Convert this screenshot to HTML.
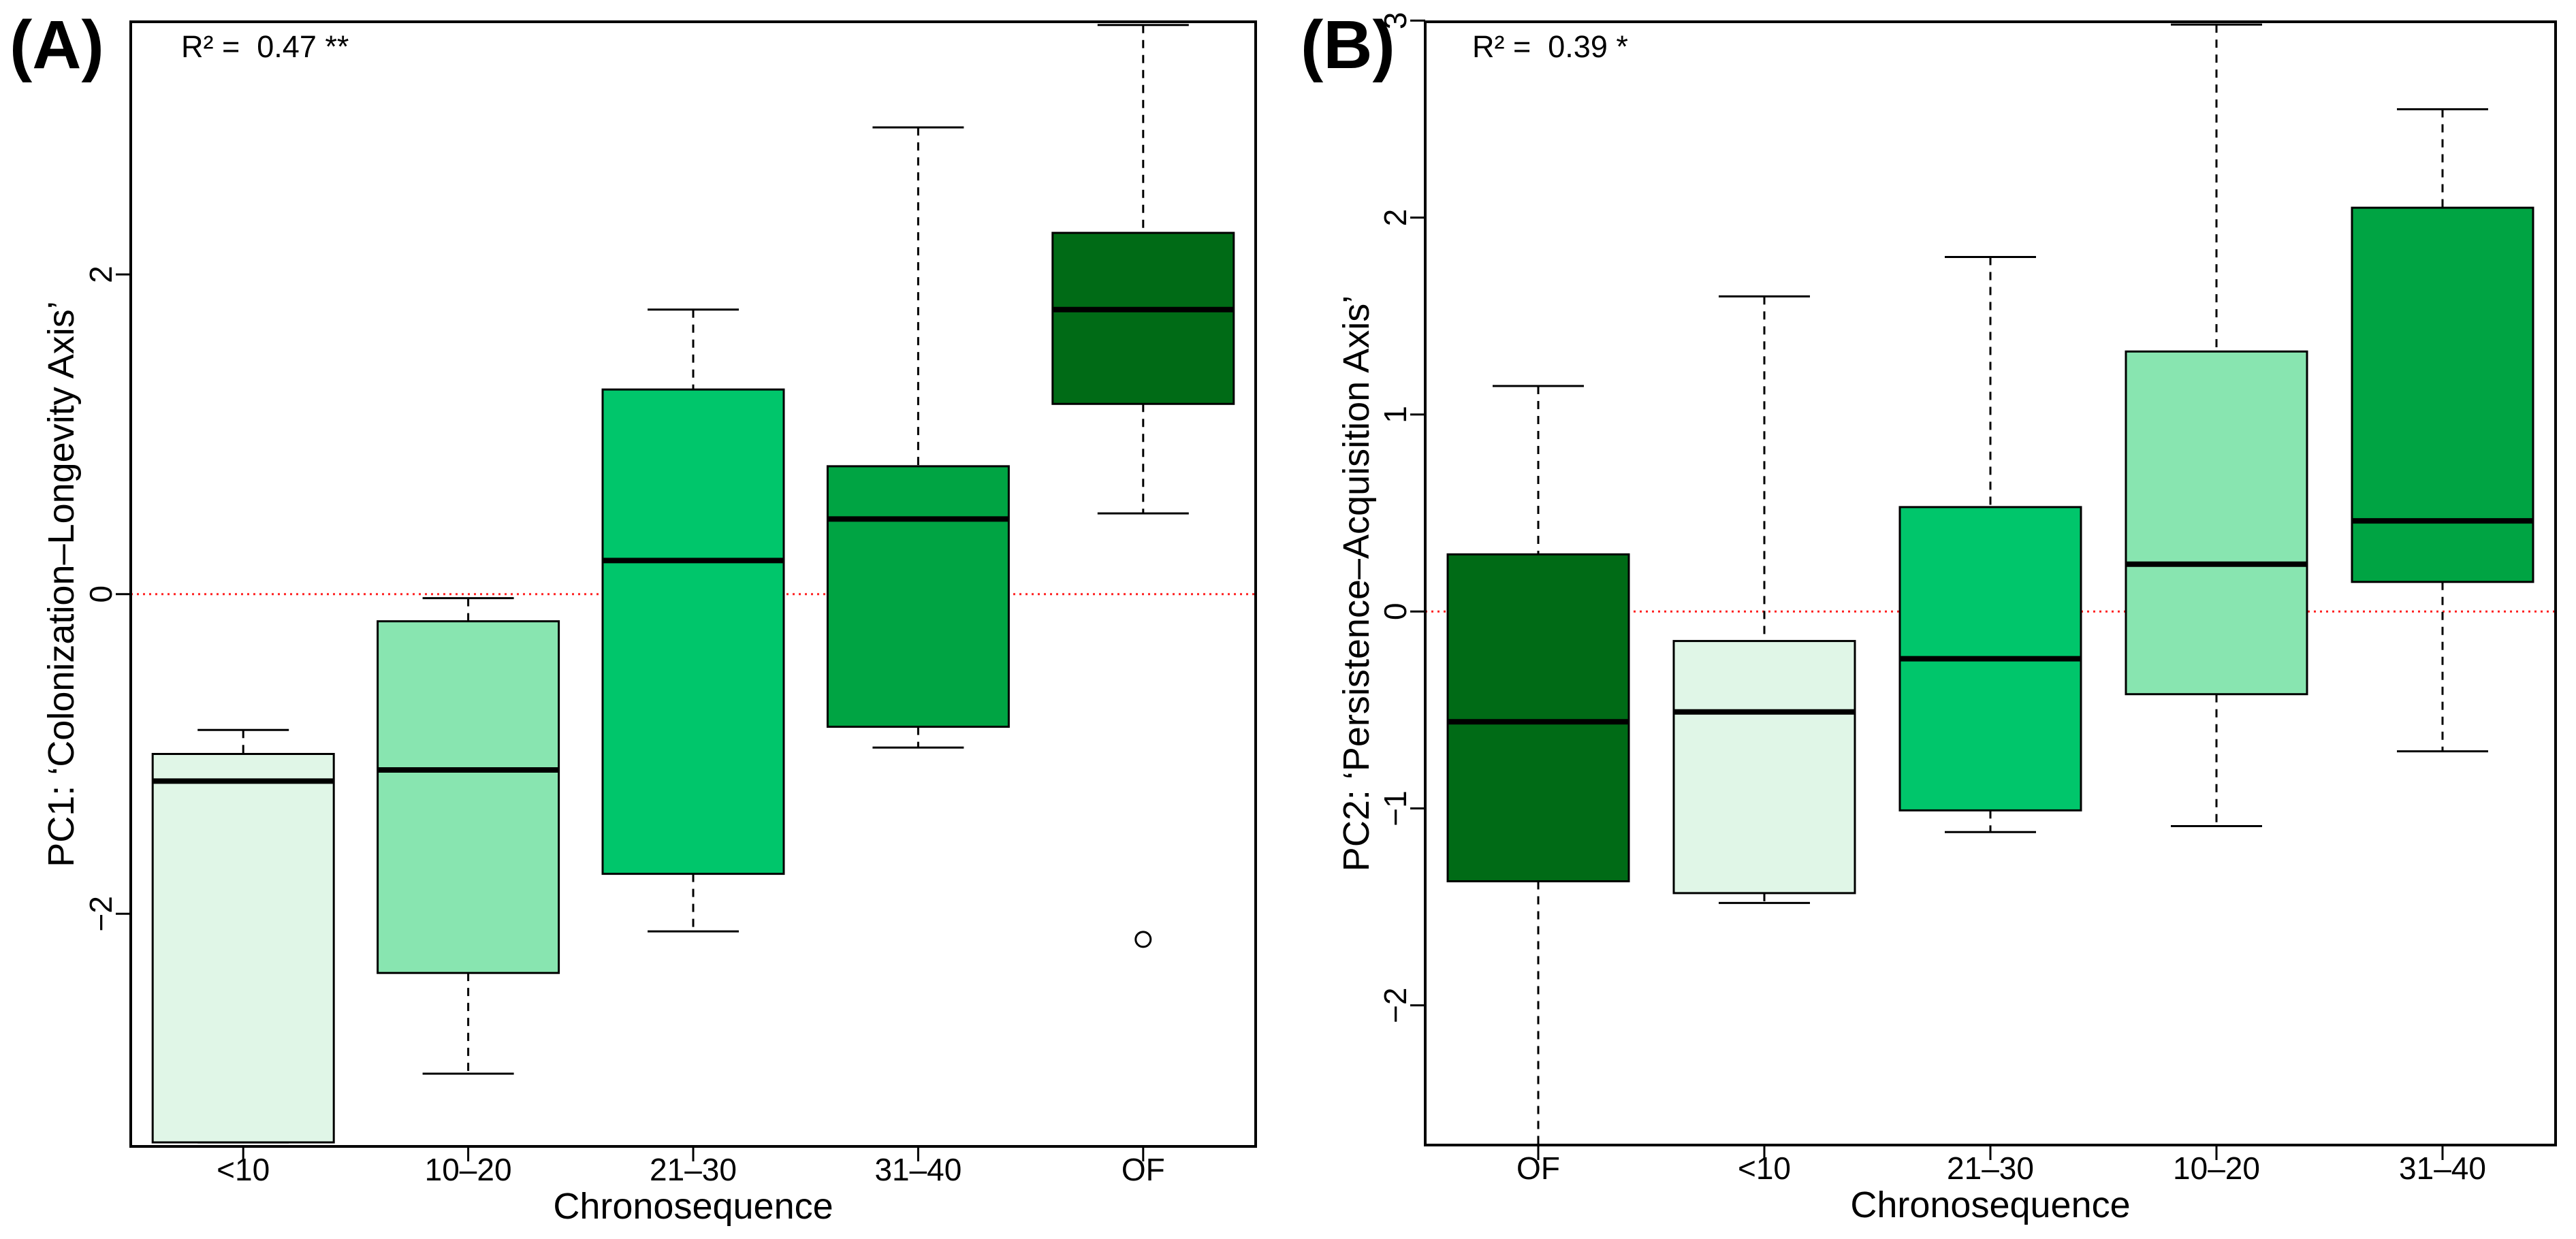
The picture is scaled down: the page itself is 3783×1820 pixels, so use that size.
<!DOCTYPE html>
<html><head><meta charset="utf-8"><style>
html,body{margin:0;padding:0;background:#fff;}
svg{display:block;font-family:"Liberation Sans",Arial,sans-serif;}
</style></head><body>
<svg id="fig" width="3783" height="1820" viewBox="0 0 3783 1820" xmlns="http://www.w3.org/2000/svg">
<rect width="3783" height="1820" fill="#fff"/>
</svg>
<script>
// Panel A data
const catsA = ["<10","10\u201320","21\u201330","31\u201340","OF"];
const colorsA = ["#e0f6e7","#88e5b0","#00c66b","#00a443","#006b16"];
const whiskerHighA = [-0.85,-0.025,1.78,2.92,3.56];
const q3A = [-1.0,-0.17,1.28,0.80,2.26];
const medianA = [-1.17,-1.10,0.21,0.47,1.78];
const q1A = [-3.43,-2.37,-1.75,-0.83,1.19];
const whiskerLowA = [-3.43,-3.0,-2.11,-0.96,0.505];
const outliersA = [[4,-2.16]];
const ticksA = [-2,0,2];
// Panel B data
const catsB = ["OF","<10","21\u201330","10\u201320","31\u201340"];
const colorsB = ["#006b16","#e0f6e7","#00c66b","#88e5b0","#00a443"];
const whiskerHighB = [1.145,1.60,1.80,2.98,2.55];
const q3B = [0.29,-0.15,0.53,1.32,2.05];
const medianB = [-0.56,-0.51,-0.24,0.24,0.46];
const q1B = [-1.37,-1.43,-1.01,-0.42,0.15];
const whiskerLowB = [-2.71,-1.48,-1.12,-1.09,-0.71];
const outliersB = [];
const ticksB = [-2,-1,0,1,2,3];

const NS="http://www.w3.org/2000/svg";
const svg=document.getElementById('fig');
function el(tag,attrs,parent){const e=document.createElementNS(NS,tag);for(const k in attrs)e.setAttribute(k,attrs[k]);(parent||svg).appendChild(e);return e;}

function panel(p){
  const g=el('g',{});
  
  
  const L=p.left,R=p.right,T=p.top,B=p.bottom;
  const y=v=>p.y0-p.ppu*v;
  const step=(R-L)/p.cats.length;
  const x=i=>L+step*(i+0.5);
  const z=el('line',{x1:L,x2:R,y1:y(0),y2:y(0),stroke:'#ff2020','stroke-width':3,'stroke-dasharray':'3 6'},g);
  
  
  const hw=133,cw=67;
  for(let i=0;i<p.cats.length;i++){
    const bg=el('g',{},g);
    
    
    const cx=x(i);
    el('line',{x1:cx,x2:cx,y1:y(p.wh[i]),y2:y(p.q3[i]),stroke:'#000','stroke-width':3,'stroke-dasharray':'12 10'},bg);
    el('line',{x1:cx,x2:cx,y1:y(p.q1[i]),y2:y(p.wl[i]),stroke:'#000','stroke-width':3,'stroke-dasharray':'12 10'},bg);
    el('line',{x1:cx-cw,x2:cx+cw,y1:y(p.wh[i]),y2:y(p.wh[i]),stroke:'#000','stroke-width':3},bg);
    el('line',{x1:cx-cw,x2:cx+cw,y1:y(p.wl[i]),y2:y(p.wl[i]),stroke:'#000','stroke-width':3},bg);
    el('rect',{x:cx-hw,y:y(p.q3[i]),width:2*hw,height:y(p.q1[i])-y(p.q3[i]),fill:p.colors[i],stroke:'#000','stroke-width':3},bg);
    el('line',{x1:cx-hw,x2:cx+hw,y1:y(p.med[i]),y2:y(p.med[i]),stroke:'#000','stroke-width':8},bg);
    el('line',{x1:cx,x2:cx,y1:B,y2:B+22,stroke:'#000','stroke-width':3},g);
    const t=el('text',{x:cx,y:B+50,'font-size':46,'text-anchor':'middle'},g);
    t.textContent=p.cats[i];
    
    
  }
  for(const o of p.out){
    const c=el('circle',{cx:x(o[0]),cy:y(o[1]),r:11,fill:'none',stroke:'#000','stroke-width':3},g);
    
    
  }
  for(const tv of p.ticks){
    el('line',{x1:L,x2:L-22,y1:y(tv),y2:y(tv),stroke:'#000','stroke-width':3},g);
    const t=el('text',{x:0,y:0,'font-size':46,'text-anchor':'middle',transform:`translate(${L-28},${y(tv)}) rotate(-90)`},g);
    t.textContent=tv<0?'\u2212'+(-tv):String(tv);
    
    
  }
  const fr=el('rect',{x:L,y:T,width:R-L,height:B-T,fill:'none',stroke:'#000','stroke-width':4},g);
  
  
  const xt=el('text',{x:(L+R)/2,y:B+106,'font-size':54,'text-anchor':'middle'},g);
  xt.textContent='Chronosequence';
  
  
  const yt=el('text',{x:0,y:0,'font-size':54,'text-anchor':'middle',transform:`translate(${p.ytx},${(T+B)/2}) rotate(-90)`},g);
  yt.textContent=p.ytitle;
  
  
  const r2=el('text',{x:p.r2x,y:84,'font-size':45},g);
  r2.textContent=p.r2;
  
  
  const lab=el('text',{x:p.labx,y:100,'font-size':100,'font-weight':'bold'},g);
  lab.textContent=p.label;
  
  
}
panel({name:'panel-a',left:192,right:1844,top:32,bottom:1684,y0:872.7,ppu:234.8,cats:catsA,colors:colorsA,wh:whiskerHighA,q3:q3A,med:medianA,q1:q1A,wl:whiskerLowA,out:outliersA,ticks:ticksA,ytitle:'PC1: \u2018Colonization\u2013Longevity Axis\u2019',ytx:108,r2:'R\u00b2 =\u00a0\u00a00.47 **',r2x:266,label:'(A)',labx:14});
panel({name:'panel-b',left:2093,right:3753,top:32,bottom:1682,y0:898.2,ppu:289.3,cats:catsB,colors:colorsB,wh:whiskerHighB,q3:q3B,med:medianB,q1:q1B,wl:whiskerLowB,out:outliersB,ticks:ticksB,ytitle:'PC2: \u2018Persistence\u2013Acquisition Axis\u2019',ytx:2010,r2:'R\u00b2 =\u00a0\u00a00.39 *',r2x:2162,label:'(B)',labx:1910});
</script>
</body></html>
